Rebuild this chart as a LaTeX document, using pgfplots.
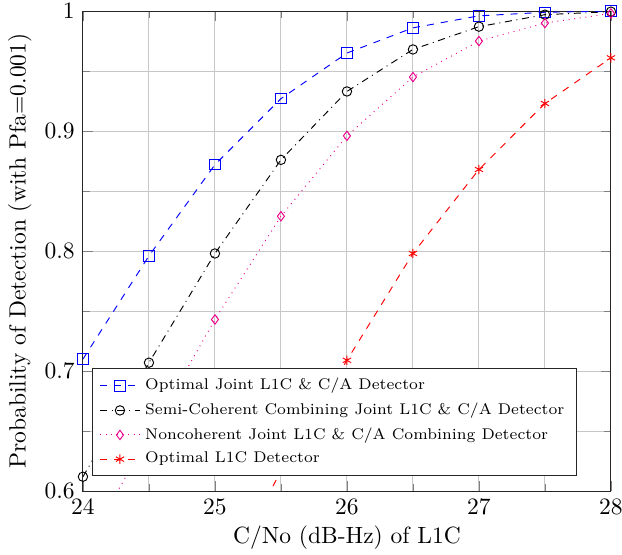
\documentclass[border=0pt]{standalone}
\usepackage{pgfplots}
\pgfplotsset{compat=1.18}

\begin{document}
\begin{tikzpicture}
\begin{axis}[
  scale only axis,
  width=224.7pt, height=204.3pt,
  xmin=24, xmax=28, ymin=0.6, ymax=1,
  xtick={24,25,26,27,28},
  ytick={0.6,0.7,0.8,0.9,1},
  minor xtick={24.5,25.5,26.5,27.5},
  minor ytick={0.65,0.75,0.85,0.95},
  tick align=inside,
  grid=both,
  major grid style={color=black!22, line width=0.4pt},
  minor grid style={color=black!22, line width=0.4pt},
  axis line style={color=black!85},
  xlabel={C/No (dB-Hz) of L1C},
  ylabel={Probability of Detection (with Pfa=0.001)},
  xlabel shift=-2pt,
  ylabel shift=-1.3pt,
  legend style={at={(0.017,0.031)}, anchor=south west,
    font=\fontsize{6.6}{7.9}\selectfont,
    draw=black!85, legend cell align=left},
  legend cell align=left,
]
% Optimal joint detector
\addplot[color=blue, dashed, mark=square, mark size=2.2pt, mark options={solid}]
  coordinates {(24,0.710) (24.5,0.796) (25,0.872) (25.5,0.927) (26,0.965)
               (26.5,0.986) (27,0.996) (27.5,0.999) (28,1.000)};
\addlegendentry{Optimal Joint L1C \& C/A Detector}
% Semi-coherent combining
\addplot[color=black, dashdotted, mark=o, mark size=2pt, mark options={solid}]
  coordinates {(24,0.612) (24.5,0.707) (25,0.798) (25.5,0.876) (26,0.933)
               (26.5,0.968) (27,0.987) (27.5,0.997) (28,0.9995)};
\addlegendentry{Semi-Coherent Combining Joint L1C \& C/A Detector}
% Noncoherent combining
\addplot[color=magenta, dotted, mark=diamond, mark size=2pt, mark options={solid}]
  coordinates {(24,0.549) (24.5,0.646) (25,0.743) (25.5,0.829) (26,0.896)
               (26.5,0.945) (27,0.975) (27.5,0.990) (28,0.998)};
\addlegendentry{Noncoherent Joint L1C \& C/A Combining Detector}
% L1C only
\addplot[color=red, dashed, mark=asterisk, mark size=2pt, mark options={solid}]
  coordinates {(25,0.510) (25.5,0.617) (26,0.709) (26.5,0.798) (27,0.868)
               (27.5,0.923) (28,0.961)};
\addlegendentry{Optimal L1C Detector}
\end{axis}
% page frame: labels on the left and bottom, a thin margin top and right
\pgfresetboundingbox
\useasboundingbox (-35.3pt,-26.8pt) rectangle (229.4pt,209.0pt);
\end{tikzpicture}
\end{document}
